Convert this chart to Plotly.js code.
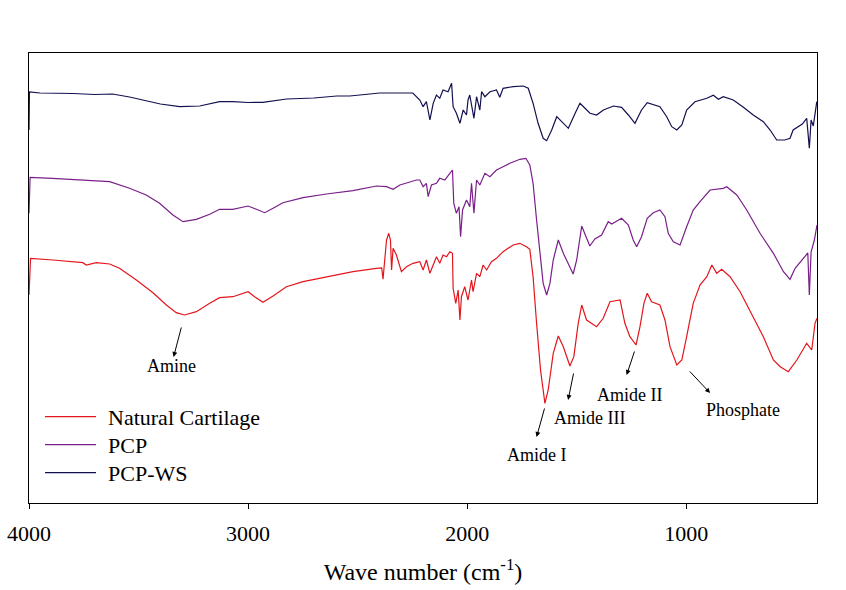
<!DOCTYPE html>
<html>
<head>
<meta charset="utf-8">
<script src="https://cdn.plot.ly/plotly-3.0.1.min.js"></script>
<style>
html,body{margin:0;padding:0;background:#fff;}
#chart{width:846px;height:590px;}
</style>
</head>
<body>
<div id="chart"></div>
<script>
// ---- data (wavenumber in cm^-1, transmittance in arbitrary offset units) ----
const seriesNames = ["Natural Cartilage", "PCP", "PCP-WS"];

const ncWave = [4000,3993,3891,3754,3739,3693,3632,3587,3510,3434,3373,3328,3290,3236,3175,3130,3069,3000,2970,2932,2886,2825,2749,2642,2521,2414,2390,2384,2368,2358,2350,2345,2338,2323,2300,2277,2247,2216,2201,2186,2170,2155,2140,2125,2110,2094,2079,2067,2064,2052,2041,2033,2026,2011,1996,1980,1973,1957,1942,1927,1911,1889,1866,1836,1790,1759,1729,1714,1699,1683,1665,1645,1630,1607,1584,1561,1531,1513,1493,1477,1455,1409,1379,1348,1302,1280,1257,1229,1211,1193,1178,1158,1120,1097,1074,1043,1020,998,968,937,906,883,861,838,800,754,694,648,602,571,534,495,450,427,412,403];
const ncValue = [208,244.7,243,240.3,238,240.3,239,234.7,223,210.3,198,190.3,188,191.3,199.7,205.3,206.3,211.3,206.3,200.7,207,216.3,221.3,226.3,231.3,234.7,235,223.7,263,269.7,263,233,254.7,248,231.3,236.3,239.7,241.3,233,243,229.7,238,246.3,239.7,248,246.3,251.3,249.7,214.7,199.7,213,183,206.3,216.3,203,223,211.3,229.7,226.3,238,233,241.3,244.7,251.3,258,259.7,256.3,253.7,226.3,179.7,133,99.7,113,149.7,167,156.3,137,146.3,179.7,198,183,176.3,184.7,201.3,203,179.7,166.3,158,176.3,199.7,209.7,201.3,198,183,156.3,138,143,166.3,199.7,218,226.3,238,229.7,233.7,226.3,211.3,186.3,166.3,143,136.3,131.3,143,159.7,153,179.7,184.7];

const pcpWave = [4000,3995,3893,3739,3632,3541,3465,3404,3343,3297,3236,3175,3130,3070,3000,2962,2924,2886,2841,2749,2642,2521,2414,2368,2338,2307,2277,2231,2216,2201,2186,2178,2163,2140,2125,2102,2079,2067,2061,2049,2037,2030,2021,2003,1988,1980,1969,1957,1942,1919,1896,1866,1836,1805,1759,1732,1714,1699,1683,1668,1653,1637,1622,1607,1584,1561,1531,1516,1500,1477,1455,1440,1417,1386,1356,1340,1295,1264,1242,1226,1204,1178,1150,1120,1097,1082,1059,1028,998,968,937,891,831,815,769,724,663,602,556,526,503,465,445,438,430,415,403];
const pcpValue = [289.7,325.7,324.7,323,321.3,314.7,308,299.7,288,281.3,283.7,288.7,293.7,293.7,297,293.7,290.3,294.7,300.3,305.3,309,312.3,317,316.3,313.7,318,319.7,323,323,316.3,319.7,306.3,318,319.7,324.7,323,329.7,333,299.7,289.7,296.3,266.3,293,303,296.3,319.7,289.7,323,318,329.7,326.3,333,336.3,339.7,343.7,344.7,338,319.7,283,249.7,219.7,208,219.7,243,263,249.7,236.3,229,243,277,265,257,264,268,281.3,279,284.7,278,263,256.3,266.3,284.7,290.3,293,286.3,269.7,261.3,258,276.3,293,301.3,313,314.7,316.3,308,293,269.7,249.7,231.3,223.7,234.7,244.7,250,208,251,263,278];

const wsWave = [4000,3998,3950,3892,3800,3700,3619,3541,3465,3400,3312,3221,3130,3070,3000,2933,2824,2700,2595,2536,2444,2400,2321,2248,2216,2201,2186,2170,2155,2140,2125,2110,2087,2071,2064,2049,2033,2018,2003,1996,1988,1969,1957,1942,1934,1919,1896,1866,1851,1836,1790,1744,1721,1699,1676,1653,1637,1614,1591,1568,1538,1507,1485,1462,1439,1409,1378,1332,1295,1264,1234,1204,1178,1120,1089,1066,1043,1020,998,960,906,876,853,831,785,739,694,648,617,587,550,526,512,470,450,438,430,420,404];
const wsValue = [373,411,410,410,409.5,408.5,409,406,402.3,399,396.3,397,401.3,401.3,400.5,400.7,404,405,407,407,409,410,410,410,403,396.3,401.3,383,399.7,408,404.7,413,411.3,419.7,396.3,389.7,379.7,393,388,403,408,384.7,406.3,393,411.3,406.3,411.3,413,405.7,414.7,416.3,417,414.7,399.7,379.7,364.7,362.3,373,386.3,381.3,374.7,389.7,399.7,394.7,389.7,388,393,397,395.7,388,379.7,393,400.3,396.3,386.3,376.3,373,378,393,401.3,404.7,407.7,403.7,406.3,403,395.7,388,381.3,373,363,363,364.7,373,379,384.7,354.7,383,377,401.3];

const tickVals = [4000, 3000, 2000, 1000];
const tickText = ["4000", "3000", "2000", "1000"];

// ---- styling ----
const colors = ["#e3161d", "#7a1f8a", "#12104f"];
const serif = "Liberation Serif, Times New Roman, serif";

const traces = [
  {x: ncWave, y: ncValue},
  {x: pcpWave, y: pcpValue},
  {x: wsWave, y: wsValue}
].map((d, i) => ({
  x: d.x, y: d.y, type: "scatter", mode: "lines",
  name: seriesNames[i],
  line: {color: colors[i], width: 1.2},
  hoverinfo: "skip"
}));

function arrow(hx, hy, tx, ty) {
  return {xref: "x", yref: "y", axref: "x", ayref: "y",
    x: hx, y: hy, ax: tx, ay: ty, text: "", showarrow: true,
    arrowhead: 2, arrowsize: 1, arrowwidth: 1, arrowcolor: "#000"};
}
function label(x, y, t) {
  return {xref: "x", yref: "y", x: x, y: y, text: t, showarrow: false,
    font: {family: serif, size: 18, color: "#000"}};
}

const layout = {
  width: 846, height: 590,
  margin: {l: 29, r: 29, t: 53, b: 87},
  paper_bgcolor: "#fff", plot_bgcolor: "#fff",
  showlegend: true,
  legend: {x: 0.014, y: 0.238, xanchor: "left", yanchor: "top",
    bgcolor: "rgba(0,0,0,0)", borderwidth: 0, itemwidth: 58,
    font: {family: serif, size: 22, color: "#000"}, tracegroupgap: 0},
  xaxis: {
    range: [4000, 403], tickvals: tickVals, ticktext: tickText,
    ticks: "outside", ticklen: 5, tickwidth: 1, tickcolor: "#000",
    ticklabelstandoff: 6,
    showline: true, linecolor: "#000", linewidth: 1, mirror: true,
    showgrid: false, zeroline: false,
    tickfont: {family: serif, size: 22, color: "#000"},
    title: {text: "Wave number (cm<sup>-1</sup>)", standoff: 17,
      font: {family: serif, size: 24, color: "#000"}}
  },
  yaxis: {
    range: [0, 450], showticklabels: false, ticks: "",
    showline: true, linecolor: "#000", linewidth: 1, mirror: true,
    showgrid: false, zeroline: false
  },
  annotations: [
    arrow(3340, 146, 3303, 177), label(3349, 137, "Amine"),
    arrow(1683, 66, 1645, 96), label(1683, 48, "Amide I"),
    arrow(1539, 103, 1513, 131), label(1440, 85, "Amide III"),
    arrow(1272, 128, 1234, 153), label(1257, 108, "Amide II"),
    arrow(891, 110, 990, 133), label(740, 93, "Phosphate")
  ]
};

Plotly.newPlot("chart", traces, layout, {displayModeBar: false, staticPlot: true}).then(gd => {
  gd.querySelectorAll(".legend .legendlines path").forEach(p => p.setAttribute("d", "M5,0h51"));
  const items = gd.querySelectorAll(".legend .traces");
  let y0 = null;
  items.forEach((g, i) => {
    const m = /translate\(\s*([-\d.]+)[ ,]+([-\d.]+)\s*\)/.exec(g.getAttribute("transform") || "");
    if (!m) return;
    if (y0 === null) y0 = parseFloat(m[2]);
    g.setAttribute("transform", "translate(" + m[1] + "," + (y0 + i * 28) + ")");
  });
});
</script>
</body>
</html>
